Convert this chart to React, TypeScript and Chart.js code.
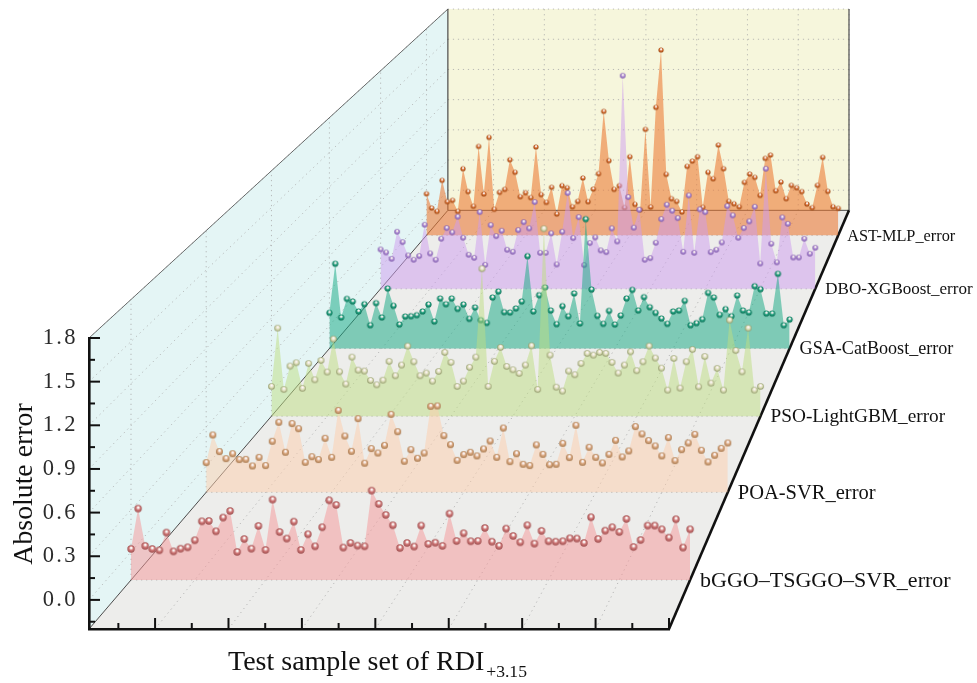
import React, { useEffect, useRef } from "react";
import { Chart, registerables } from "chart.js";

Chart.register(...registerables);

const seriesNames = ["bGGO–TSGGO–SVR_error", "POA-SVR_error", "PSO-LightGBM_error", "GSA-CatBoost_error", "DBO-XGBoost_error", "AST-MLP_error"];

const bGGO = [0.021,0.309,0.043,0.021,0.012,0.138,0.004,0.023,0.033,0.083,0.218,0.221,0.147,0.245,0.292,0.0,0.092,0.023,0.185,0.014,0.373,0.142,0.095,0.216,0.014,0.126,0.04,0.176,0.368,0.335,0.031,0.064,0.045,0.04,0.437,0.342,0.264,0.19,0.028,0.064,0.038,0.188,0.057,0.066,0.043,0.273,0.078,0.133,0.076,0.078,0.171,0.073,0.043,0.166,0.114,0.069,0.19,0.059,0.15,0.076,0.073,0.076,0.097,0.095,0.064,0.247,0.092,0.152,0.176,0.142,0.235,0.035,0.085,0.188,0.188,0.161,0.102,0.233,0.031,0.161];
const POA = [0.027,0.238,0.111,0.057,0.095,0.05,0.052,0.001,0.067,0.004,0.19,0.335,0.106,0.325,0.286,0.029,0.072,0.05,0.213,0.067,0.426,0.23,0.113,0.363,0.022,0.134,0.1,0.159,0.396,0.263,0.037,0.126,0.06,0.1,0.457,0.46,0.233,0.164,0.044,0.088,0.106,0.078,0.131,0.192,0.067,0.291,0.034,0.095,0.014,0.004,0.162,0.09,0.011,0.014,0.174,0.065,0.312,0.029,0.144,0.067,0.024,0.09,0.197,0.07,0.116,0.302,0.246,0.195,0.154,0.078,0.218,0.042,0.126,0.177,0.243,0.121,0.032,0.083,0.136,0.177];
const PSO = [0.042,0.517,0.017,0.208,0.235,0.026,0.229,0.096,0.254,0.159,0.428,0.161,0.061,0.281,0.175,0.167,0.091,0.055,0.093,0.246,0.129,0.216,0.371,0.243,0.129,0.151,0.085,0.164,0.319,0.238,0.042,0.085,0.197,0.281,1.001,0.042,0.246,0.36,0.205,0.178,0.148,0.216,0.373,0.017,1.327,0.297,0.036,0.004,0.167,0.137,0.229,0.311,0.297,0.319,0.311,0.238,0.151,0.216,0.324,0.17,0.243,0.371,0.273,0.191,0.012,0.27,0.028,0.243,0.343,0.039,0.286,0.069,0.189,0.012,0.583,0.335,0.161,0.517,0.012,0.042];
const GSA = [0.109,0.534,0.069,0.23,0.207,0.121,0.184,0.002,0.193,0.069,0.32,0.17,0.008,0.077,0.08,0.089,0.121,0.181,0.034,0.233,0.184,0.233,0.144,0.181,0.057,0.155,0.046,0.022,0.242,0.294,0.115,0.112,0.147,0.207,0.6,0.121,0.262,0.329,0.129,0.011,0.167,0.08,0.277,0.017,0.921,0.311,0.083,0.014,0.126,0.008,0.086,0.233,0.308,0.129,0.245,0.158,0.109,0.06,0.014,0.121,0.129,0.213,0.002,0.02,0.054,0.282,0.242,0.092,0.141,0.08,0.259,0.129,0.112,0.34,0.314,0.103,0.103,0.447,0.002,0.051];
const DBO = [0.161,0.133,0.075,0.323,0.228,0.106,0.066,0.1,0.387,0.124,0.066,0.259,0.357,0.317,0.461,0.268,0.112,0.084,0.503,0.02,0.384,0.283,0.332,0.158,0.139,0.338,0.412,0.354,0.595,0.13,0.13,0.308,0.023,0.323,0.678,0.265,0.457,0.017,0.219,0.271,0.152,0.136,0.354,0.234,1.754,0.641,0.36,0.525,0.066,0.081,0.222,0.439,0.571,0.516,0.448,0.139,0.656,0.13,0.528,0.503,0.136,0.158,0.225,0.558,0.473,0.268,0.357,0.418,0.552,0.032,0.901,0.213,0.042,0.454,0.396,0.087,0.087,0.259,0.121,0.176];
const AST = [0.203,0.065,0.032,0.332,0.126,0.139,0.032,0.445,0.223,0.081,0.661,0.2,0.748,0.052,0.216,0.245,0.532,0.41,0.174,0.213,0.165,0.655,0.194,0.119,0.265,0.006,0.281,0.261,0.077,0.129,0.355,0.126,0.248,0.397,1.0,0.523,0.245,0.281,0.068,0.561,0.1,0.048,0.826,0.074,1.039,1.594,0.39,0.155,0.129,0.026,0.468,0.519,0.561,0.071,0.41,0.348,0.674,0.445,0.129,0.106,0.077,0.313,0.394,0.361,0.187,0.545,0.577,0.232,0.316,0.155,0.284,0.261,0.223,0.103,0.068,0.284,0.555,0.226,0.077,0.061];

const seriesValues = [bGGO, POA, PSO, GSA, DBO, AST];
const sampleNumbers = bGGO.map((_, i) => i + 1);

const yAxisTitle = "Absolute error";
const xAxisTitle = "Test sample set of RDI";
const xAxisSubscript = "+3.15";

// Perspective of the box: depth factor of each ribbon, vanishing point in axis units.
const seriesDepth = [0.9639, 0.8993, 0.8432, 0.7934, 0.7494, 0.71];
const backDepth = 0.6916;
const vanishX = 159.5;
const vanishY = 9.13;
const xMin = 1;
const xMax = 80;
const yMin = -0.2;
const yMax = 1.8;

const W = 977;
const H = 683;
const SERIF = "'Liberation Serif', 'Times New Roman', serif";

const ribbonFill = ["rgba(245,150,152,0.5)", "rgba(253,205,172,0.5)", "rgba(190,222,130,0.5)", "rgba(24,170,135,0.52)", "rgba(205,155,240,0.5)", "rgba(236,120,50,0.58)"];
const ballRim = ["#9c4f4f", "#a67a50", "#8f9668", "#0b6f55", "#7c57a6", "#9a4814"];
const ballMid = ["#cf7676", "#d9a67e", "#dcdfb8", "#23a07f", "#a987d2", "#d4692c"];
const ballSize = [7.4, 7, 6.6, 6.2, 5.6, 5.2];
const labelSize = [22, 20.5, 19.3, 18.1, 17, 16.3];

const projX = (x: number, s: number) => vanishX + (x - vanishX) * s;
const projY = (y: number, s: number) => vanishY + (y - vanishY) * s;

function makeBall(d: number, rim: string, mid: string) {
  const size = Math.ceil(d) + 2;
  const c = document.createElement("canvas");
  c.width = size;
  c.height = size;
  const g = c.getContext("2d")!;
  const m = size / 2;
  const r = d / 2;
  const grad = g.createRadialGradient(m + r * 0.05, m - r * 0.42, r * 0.02, m, m, r * 1.02);
  grad.addColorStop(0, "#ffffff");
  grad.addColorStop(0.22, "#f8eeec");
  grad.addColorStop(0.55, mid);
  grad.addColorStop(1, rim);
  g.fillStyle = grad;
  g.beginPath();
  g.arc(m, m, r, 0, Math.PI * 2);
  g.fill();
  return c;
}

const boxPlugin: any = {
  id: "box",
  beforeDraw(chart: any) {
    const { ctx, scales } = chart;
    const P = (x: number, y: number, s: number): [number, number] => [
      scales.x.getPixelForValue(projX(x, s)),
      scales.y.getPixelForValue(projY(y, s)),
    ];
    const poly = (pts: [number, number][], color: string) => {
      ctx.fillStyle = color;
      ctx.beginPath();
      pts.forEach((p, i) => (i ? ctx.lineTo(p[0], p[1]) : ctx.moveTo(p[0], p[1])));
      ctx.closePath();
      ctx.fill();
    };
    const seg = (a: [number, number], b: [number, number], color: string, w: number, dash: number[] = []) => {
      ctx.strokeStyle = color;
      ctx.lineWidth = w;
      ctx.setLineDash(dash);
      ctx.beginPath();
      ctx.moveTo(a[0], a[1]);
      ctx.lineTo(b[0], b[1]);
      ctx.stroke();
      ctx.setLineDash([]);
    };
    ctx.save();
    poly([P(xMin, yMin, 1), P(xMin, yMax, 1), P(xMin, yMax, backDepth), P(xMin, yMin, backDepth)], "#e4f5f5");
    poly([P(xMin, yMin, backDepth), P(xMin, yMax, backDepth), P(xMax, yMax, backDepth), P(xMax, yMin, backDepth)], "#f6f6dc");
    poly([P(xMin, yMin, 1), P(xMax, yMin, 1), P(xMax, yMin, backDepth), P(xMin, yMin, backDepth)], "#ededeb");

    const dot = "rgba(170,170,170,0.8)";
    const dash = [1.2, 3.8];
    const yMajor = [0, 0.3, 0.6, 0.9, 1.2, 1.5, 1.8];
    const xMajor = [10, 20, 30, 40, 50, 60, 70, 80];
    yMajor.forEach((v) => {
      seg(P(xMin, v, 1), P(xMin, v, backDepth), dot, 1, dash);
      seg(P(xMin, v, backDepth), P(xMax, v, backDepth), dot, 1, dash);
    });
    xMajor.forEach((v) => {
      seg(P(v, yMin, 1), P(v, yMin, backDepth), dot, 1, dash);
      seg(P(v, yMin, backDepth), P(v, yMax, backDepth), dot, 1, dash);
    });
    seriesDepth.forEach((s) => {
      seg(P(xMin, yMin, s), P(xMax, yMin, s), dot, 1, dash);
      seg(P(xMin, yMin, s), P(xMin, yMax, s), dot, 1, dash);
    });

    const edge = "#4a4a4a";
    seg(P(xMin, yMin, 1), P(xMin, yMin, backDepth), edge, 1);
    seg(P(xMin, yMax, 1), P(xMin, yMax, backDepth), edge, 0.8);
    seg(P(xMin, yMin, backDepth), P(xMin, yMax, backDepth), edge, 1.2);
    seg(P(xMax, yMin, backDepth), P(xMax, yMax, backDepth), edge, 1.2);
    seg(P(xMin, yMin, backDepth), P(xMax, yMin, backDepth), edge, 1);
    seg(P(xMax, yMin, 1), P(xMax, yMin, backDepth), "#111", 2.6);

    // inward tick marks on the front axes
    const left = scales.y.left + scales.y.width;
    const bottom = scales.x.top;
    for (let k = -1; k <= 12; k++) {
      const v = k * 0.15;
      const py = scales.y.getPixelForValue(v);
      seg([left, py], [left + (k % 2 === 0 ? 11 : 6), py], "#111", 2);
    }
    for (let k = 1; k <= 16; k++) {
      const v = k * 5;
      const px = scales.x.getPixelForValue(v);
      seg([px, bottom], [px, bottom - (k % 2 === 0 ? 11 : 6)], "#111", 2);
    }
    ctx.restore();
    ctx.letterSpacing = "2.4px";
  },
  beforeDatasetsDraw(chart: any) {
    chart.$frontArea = chart.chartArea;
    chart.chartArea = { left: 0, top: 0, right: W, bottom: H, width: W, height: H };
  },
  afterDatasetsDraw(chart: any) {
    chart.chartArea = chart.$frontArea;
    const { ctx, scales } = chart;
    ctx.save();
    ctx.letterSpacing = "0px";
    ctx.fillStyle = "#111";
    ctx.textBaseline = "middle";
    ctx.textAlign = "left";
    seriesNames.forEach((name, i) => {
      const s = seriesDepth[i];
      ctx.font = `${labelSize[i]}px ${SERIF}`;
      ctx.fillText(name, scales.x.getPixelForValue(projX(xMax, s)) + 10 - (i === 5 ? 1 : 0), scales.y.getPixelForValue(projY(yMin, s)) + 1);
    });
    ctx.textBaseline = "alphabetic";
    ctx.font = `28px ${SERIF}`;
    ctx.fillText(xAxisTitle, 228, 670);
    const w = ctx.measureText(xAxisTitle).width;
    ctx.font = `17.6px ${SERIF}`;
    ctx.fillText(xAxisSubscript, 228 + w + 2, 677);
    ctx.save();
    ctx.translate(32, 484);
    ctx.rotate(-Math.PI / 2);
    ctx.textAlign = "center";
    ctx.font = `27.8px ${SERIF}`;
    ctx.fillText(yAxisTitle, 0, 0);
    ctx.restore();
    ctx.restore();
  },
};

export default function App() {
  const ref = useRef<HTMLCanvasElement>(null);
  useEffect(() => {
    const datasets = seriesValues.map((vals, i) => {
      const s = seriesDepth[i];
      return {
        label: seriesNames[i],
        data: vals.map((v, k) => ({ x: projX(sampleNumbers[k], s), y: projY(v, s) })),
        fill: { value: projY(yMin, s) },
        backgroundColor: ribbonFill[i],
        borderWidth: 0,
        borderColor: "transparent",
        tension: 0,
        clip: false as const,
        pointStyle: makeBall(ballSize[i], ballRim[i], ballMid[i]),
        pointRadius: 4,
        pointHoverRadius: 4,
      };
    });
    const chart = new Chart(ref.current!, {
      type: "line",
      data: { datasets },
      options: {
        animation: false,
        responsive: false,
        events: [],
        layout: { padding: { top: 338, right: 308, left: 0, bottom: 0 } },
        plugins: { legend: { display: false }, tooltip: { enabled: false } },
        scales: {
          x: {
            type: "linear",
            position: "bottom",
            grid: { display: false, drawTicks: false },
            border: { display: true, width: 2.6, color: "#111" },
            ticks: { display: false },
            afterBuildTicks: (s: any) => {
              s.min = xMin;
              s.max = xMax;
            },
            afterFit: (s: any) => {
              s.height = H - 629;
            },
          },
          y: {
            type: "linear",
            position: "left",
            min: yMin,
            max: yMax,
            grid: { display: false, drawTicks: false },
            border: { display: true, width: 2.6, color: "#111" },
            ticks: {
              stepSize: 0.3,
              includeBounds: false,
              autoSkip: false,
              padding: 11,
              color: "#2a2a2a",
              font: { family: SERIF, size: 22.5 },
              callback: (v: any) => Number(v).toFixed(1),
            },
            afterFit: (s: any) => {
              s.width = 89;
            },
          },
        },
      } as any,
      plugins: [boxPlugin],
    });
    return () => chart.destroy();
  }, []);
  return (
    <div style={{ position: "absolute", left: 0, top: 0, width: W, height: H, background: "#fff" }}>
      <canvas ref={ref} width={W} height={H} style={{ display: "block", width: W, height: H }} />
    </div>
  );
}
